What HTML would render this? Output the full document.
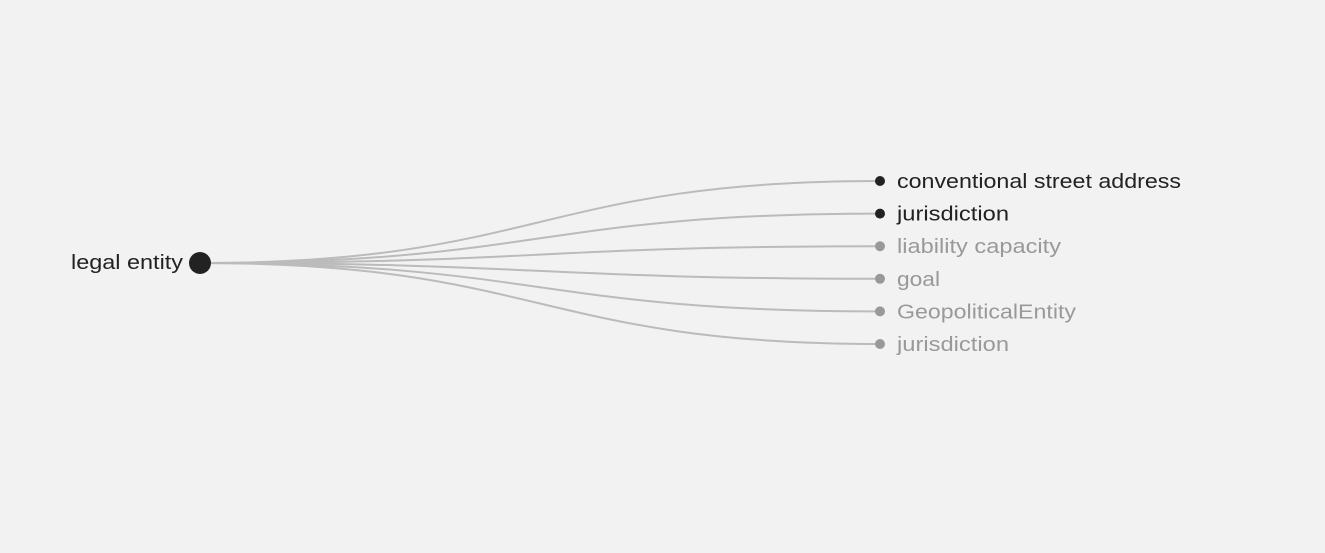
<!DOCTYPE html>
<html><head><meta charset="utf-8"><style>
html,body{margin:0;padding:0;background:#f2f2f2;width:1325px;height:553px;overflow:hidden}
text{font-family:"Liberation Sans",sans-serif;font-size:20px}
</style></head><body>
<svg id="chart" width="1325" height="553" xmlns="http://www.w3.org/2000/svg"></svg>
<script>
const rootLabel = "legal entity";
const childLabels = ["conventional street address","jurisdiction","liability capacity","goal","GeopoliticalEntity","jurisdiction"];
const childActive = [true,true,false,false,false,false];
const childWidths = [284,112,164,43,179,112];
const NS="http://www.w3.org/2000/svg";
const svg=document.getElementById('chart');
const rx=200, ry=263, cx=880, y0=181, dy=32.6;
function yPos(i){return y0+i*dy;}
function mk(t,a){const e=document.createElementNS(NS,t);for(const k in a)e.setAttribute(k,a[k]);svg.appendChild(e);return e;}
childLabels.forEach((l,i)=>{
  const y=yPos(i), mx=(rx+cx)/2;
  const p=mk('path',{d:`M${rx},${ry}C${mx},${ry} ${mx},${y} ${cx},${y}`,fill:'none',stroke:'#bbb','stroke-width':2});
  
  
});
childLabels.forEach((l,i)=>{
  const y=yPos(i), col=childActive[i]?'#222':'#999';
  const c=mk('circle',{cx:cx,cy:y,r:5,fill:col});
  
  
  const t=mk('text',{x:897,y:y+7,fill:col,textLength:childWidths[i],lengthAdjust:'spacingAndGlyphs'});
  t.textContent=l;
  
  
});
const rc=mk('circle',{cx:rx,cy:ry,r:11,fill:'#222'});


const rt=mk('text',{x:183,y:ry+6,fill:'#222','text-anchor':'end',textLength:112,lengthAdjust:'spacingAndGlyphs'});
rt.textContent=rootLabel;


</script>
</body></html>
